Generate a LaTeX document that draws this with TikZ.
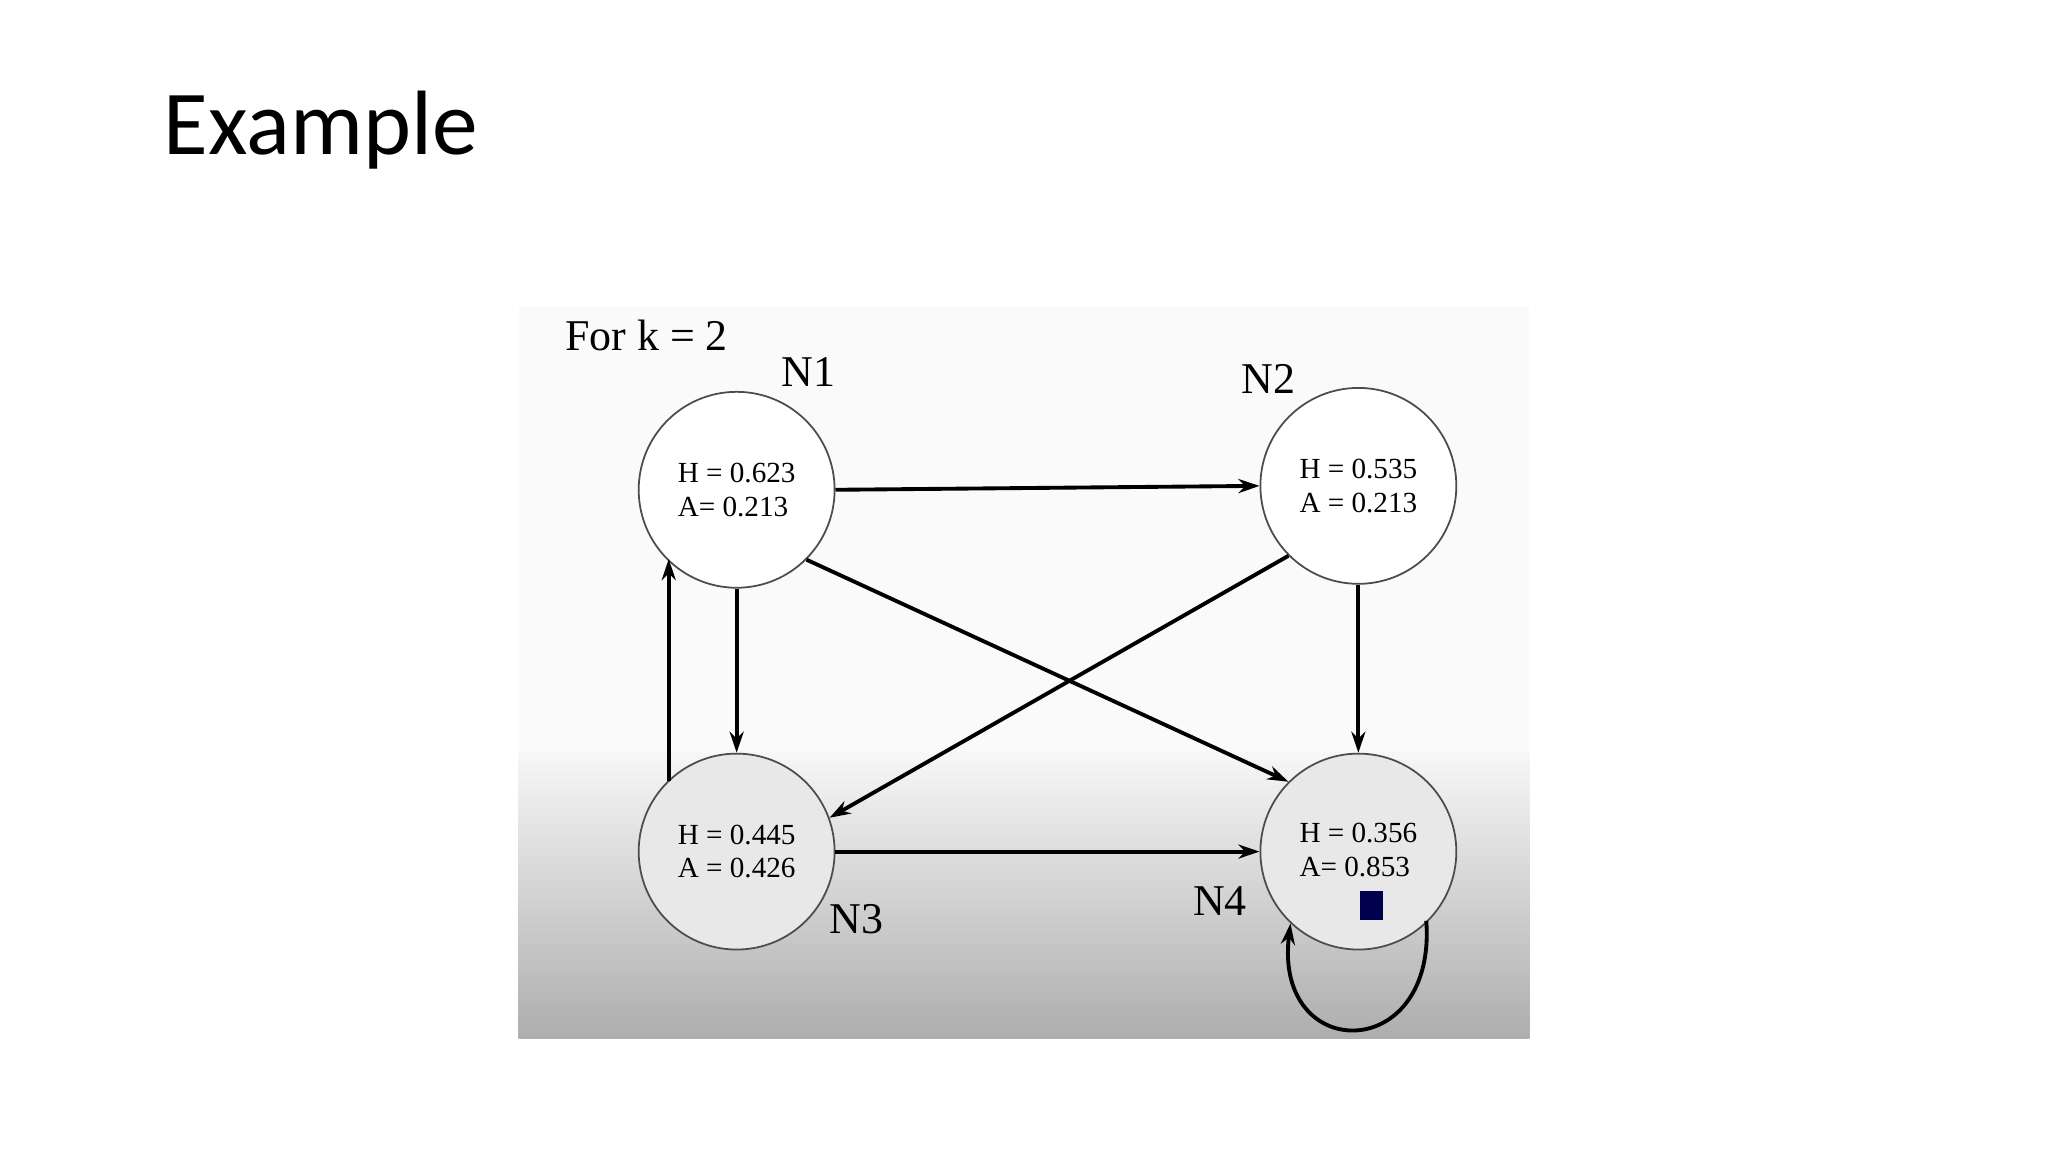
\documentclass[tikz,border=0pt]{standalone}
\usepackage{fontspec}
\setmainfont{Liberation Serif}
\newfontfamily\titlefont{Carlito}
\usetikzlibrary{arrows.meta}
\begin{document}
\begin{tikzpicture}[x=0.013061cm,y=-0.013061cm,
  nd/.style={circle,draw=black!70,line width=0.5pt,minimum size=150*0.013061cm,inner sep=0pt,align=left,font=\fontsize{8.3}{9.6}\selectfont},
  lbl/.style={font=\fontsize{12.5}{14}\selectfont},
  ed/.style={line width=1.1pt,-{Stealth[length=6pt,width=4pt]}}]
\useasboundingbox (0,0) rectangle (1568,882);
\fill[white] (0,0) rectangle (1568,882);
\fill[black!2] (397,235) rectangle (1171,575);
\shade[top color=black!3,bottom color=black!32] (397,575) rectangle (1171,795);
\node[anchor=west,font=\titlefont\fontsize{26}{30}\selectfont] (title) at (116,100) {Example};
\node[lbl] (fk) at (495,257) {For k = 2};
\node[nd,fill=white] (n1) at (564,375) {H = 0.623\\A= 0.213};
\node[nd,fill=white] (n2) at (1040,372) {H = 0.535\\A = 0.213};
\node[nd,fill=black!9] (n3) at (564,652) {H = 0.445\\A = 0.426};
\node[nd,fill=black!9] (n4) at (1040,652) {};
\node[font=\fontsize{8.3}{9.6}\selectfont,align=left] (t4) at (1040,651) {H = 0.356\\A= 0.853};
\node[lbl] (l1) at (619,285) {N1};
\node[lbl] (l2) at (971,290) {N2};
\node[lbl] (l3) at (656,704) {N3};
\node[lbl] (l4) at (934,690) {N4};
\fill[blue!30!black] (1041,682) rectangle (1059,704);
\draw[ed] (n1.east) -- (n2.west);
\draw[ed] (n1.south) -- (n3.north);
\draw[ed] (n2.south) -- (n4.north);
\draw[ed] (n3.east) -- (n4.west);
\draw[ed] (n1.-45) -- (n4.135);
\draw[ed] (n2.-135) -- (n3.20);
\coordinate (a) at (512,598);
\coordinate (b) at (512,428);
\draw[ed] (a) -- (b);
\coordinate (s) at (1092,705);
\coordinate (e) at (988,707);
\draw[ed] (s) .. controls (1100,815) and (975,815) .. (e);
\end{tikzpicture}
\end{document}
